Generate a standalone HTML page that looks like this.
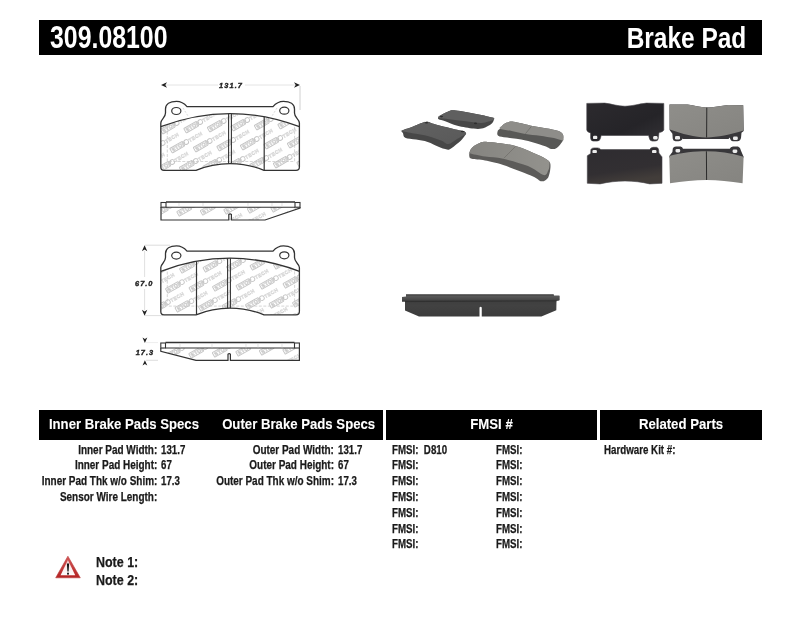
<!DOCTYPE html>
<html><head><meta charset="utf-8">
<style>
html,body{margin:0;padding:0;background:#fff;}
body{width:800px;height:619px;position:relative;overflow:hidden;font-family:"Liberation Sans",sans-serif;font-weight:bold;color:#1a1a1a;}
.t{position:absolute;white-space:nowrap;line-height:1;-webkit-text-stroke:0.25px currentColor;filter:grayscale(1);}
.l{transform-origin:left top;}
.r{transform-origin:right top;text-align:right;}
.m{transform-origin:center top;text-align:center;}
.bar{position:absolute;background:#000;}
.w{color:#fff;}
svg{position:absolute;left:0;top:0;filter:grayscale(0);}
</style></head><body>
<div class="bar" style="left:39px;top:20px;width:723px;height:35px;"></div>
<div class="t l w" id="pn" style="left:50px;top:21.6px;font-size:30.5px;transform:scaleX(.815);-webkit-text-stroke:0">309.08100</div>
<div class="t r w" id="bp" style="right:54px;top:23.3px;font-size:29.3px;transform:scaleX(.835);-webkit-text-stroke:0">Brake Pad</div>

<div class="bar" style="left:39px;top:410px;width:344px;height:30px;"></div>
<div class="bar" style="left:386px;top:410px;width:211px;height:30px;"></div>
<div class="bar" style="left:600px;top:410px;width:162px;height:30px;"></div>
<div class="t m w" style="left:36px;width:172px;top:416px;font-size:15.5px;transform:scaleX(.85);-webkit-text-stroke:0.1px #fff">Inner Brake Pads Specs</div>
<div class="t m w" style="left:209px;width:175px;top:416px;font-size:15.5px;transform:scaleX(.85);-webkit-text-stroke:0.1px #fff">Outer Brake Pads Specs</div>
<div class="t m w" style="left:386px;width:211px;top:416px;font-size:15.5px;transform:scaleX(.85);-webkit-text-stroke:0.1px #fff">FMSI #</div>
<div class="t m w" style="left:600px;width:162px;top:416px;font-size:15.5px;transform:scaleX(.85);-webkit-text-stroke:0.1px #fff">Related Parts</div>

<!-- inner specs -->
<div class="t r" style="right:643px;top:443.5px;font-size:12px;transform:scaleX(.83)">Inner Pad Width:</div>
<div class="t r" style="right:643px;top:459.3px;font-size:12px;transform:scaleX(.83)">Inner Pad Height:</div>
<div class="t r" style="right:643px;top:475.1px;font-size:12px;transform:scaleX(.83)">Inner Pad Thk w/o Shim:</div>
<div class="t r" style="right:643px;top:490.9px;font-size:12px;transform:scaleX(.83)">Sensor Wire Length:</div>
<div class="t l" style="left:161px;top:443.5px;font-size:12px;transform:scaleX(.81)">131.7</div>
<div class="t l" style="left:161px;top:459.3px;font-size:12px;transform:scaleX(.81)">67</div>
<div class="t l" style="left:161px;top:475.1px;font-size:12px;transform:scaleX(.81)">17.3</div>
<!-- outer specs -->
<div class="t r" style="right:466px;top:443.5px;font-size:12px;transform:scaleX(.83)">Outer Pad Width:</div>
<div class="t r" style="right:466px;top:459.3px;font-size:12px;transform:scaleX(.83)">Outer Pad Height:</div>
<div class="t r" style="right:466px;top:475.1px;font-size:12px;transform:scaleX(.83)">Outer Pad Thk w/o Shim:</div>
<div class="t l" style="left:338px;top:443.5px;font-size:12px;transform:scaleX(.81)">131.7</div>
<div class="t l" style="left:338px;top:459.3px;font-size:12px;transform:scaleX(.81)">67</div>
<div class="t l" style="left:338px;top:475.1px;font-size:12px;transform:scaleX(.81)">17.3</div>
<!-- FMSI -->
<div class="t l" style="left:392px;top:443.5px;font-size:12px;transform:scaleX(.81)">FMSI:&nbsp; D810</div>
<div class="t l" style="left:392px;top:459.3px;font-size:12px;transform:scaleX(.81)">FMSI:</div>
<div class="t l" style="left:392px;top:475.1px;font-size:12px;transform:scaleX(.81)">FMSI:</div>
<div class="t l" style="left:392px;top:490.9px;font-size:12px;transform:scaleX(.81)">FMSI:</div>
<div class="t l" style="left:392px;top:506.7px;font-size:12px;transform:scaleX(.81)">FMSI:</div>
<div class="t l" style="left:392px;top:522.5px;font-size:12px;transform:scaleX(.81)">FMSI:</div>
<div class="t l" style="left:392px;top:538.3px;font-size:12px;transform:scaleX(.81)">FMSI:</div>
<div class="t l" style="left:496px;top:443.5px;font-size:12px;transform:scaleX(.81)">FMSI:</div>
<div class="t l" style="left:496px;top:459.3px;font-size:12px;transform:scaleX(.81)">FMSI:</div>
<div class="t l" style="left:496px;top:475.1px;font-size:12px;transform:scaleX(.81)">FMSI:</div>
<div class="t l" style="left:496px;top:490.9px;font-size:12px;transform:scaleX(.81)">FMSI:</div>
<div class="t l" style="left:496px;top:506.7px;font-size:12px;transform:scaleX(.81)">FMSI:</div>
<div class="t l" style="left:496px;top:522.5px;font-size:12px;transform:scaleX(.81)">FMSI:</div>
<div class="t l" style="left:496px;top:538.3px;font-size:12px;transform:scaleX(.81)">FMSI:</div>
<!-- related -->
<div class="t l" style="left:604px;top:443.5px;font-size:12px;transform:scaleX(.812)">Hardware Kit #:</div>

<!-- notes -->
<div class="t l" style="left:96px;top:554.5px;font-size:14px;transform:scaleX(.89)">Note 1:</div>
<div class="t l" style="left:96px;top:573.3px;font-size:14px;transform:scaleX(.89)">Note 2:</div>


<svg width="800" height="619" viewBox="0 0 800 619">
  <defs>
    <g id="logo">
      <rect x="0" y="-2.6" width="14.5" height="5.2" rx="0.6" fill="none" stroke="#c4c4c4" stroke-width="0.9"/>
      <text x="1.3" y="1.9" font-family="Liberation Sans" font-weight="bold" font-size="5.2" letter-spacing="0.3" fill="#fff" stroke="#c9c9c9" stroke-width="0.55">STOP</text>
      <circle cx="17.6" cy="0" r="2.3" fill="none" stroke="#c6c6c6" stroke-width="0.9"/>
      <text x="20.6" y="1.9" font-family="Liberation Sans" font-size="5" letter-spacing="0.4" fill="#fff" stroke="#d4d4d4" stroke-width="0.5">TECH</text>
    </g>
    <clipPath id="cf1"><path d="M160.8,126.7 Q230,100.5 299.4,126.7 L299.4,167 Q299.4,170.3 296,170.3 L264,170.3 C250,164.5 240,163.6 230,163.6 C220,163.6 210,164.5 196,170.3 L164,170.3 Q160.8,170.3 160.8,167 Z"/></clipPath>
    <clipPath id="cf3"><path transform="translate(0,144.6)" d="M160.8,126.7 Q230,100.5 299.4,126.7 L299.4,167 Q299.4,170.3 296,170.3 L264,170.3 C250,164.5 240,163.6 230,163.6 C220,163.6 210,164.5 196,170.3 L164,170.3 Q160.8,170.3 160.8,167 Z"/></clipPath>
    <clipPath id="cs2"><path d="M161,207 L300,207 L300,208 L265,220 L161,220 Z"/></clipPath>
    <clipPath id="cs4"><path d="M161,348 L299.4,348 L299.4,360.3 L196,360.3 L161,351.3 Z"/></clipPath>

    <path id="outl" d="M160.8,123 C160.8,119 165.5,118 165.5,113 L165.5,109 C165.5,104 170,101.3 176.5,101.3 C181,101.3 184,103 187,106.6 L273,106.6 C276,103 279,101.3 283.5,101.3 C290,101.3 294.5,104 294.5,109 L294.5,113 C294.5,118 299.4,119 299.4,123 L299.4,167 Q299.4,170.3 296,170.3 L264,170.3 C250,164.5 240,163.6 230,163.6 C220,163.6 210,164.5 196,170.3 L164,170.3 Q160.8,170.3 160.8,167 Z"/>
    <path id="fric" d="M160.8,126.7 Q230,100.5 299.4,126.7 L299.4,167 Q299.4,170.3 296,170.3 L264,170.3 C250,164.5 240,163.6 230,163.6 C220,163.6 210,164.5 196,170.3 L164,170.3 Q160.8,170.3 160.8,167 Z"/>
    <path id="side" d="M161,202.5 L300,202.5 L300,208 L265,220 L161,220 Z"/>
  </defs>
  <!-- dimension 131.7 -->
  <line x1="166" y1="85" x2="218" y2="85" stroke="#e4e4e4" stroke-width="1"/>
  <line x1="245" y1="85" x2="295" y2="85" stroke="#e4e4e4" stroke-width="1"/>
  <path d="M161,85 L167,82.3 L165.3,85 L167,87.7 Z" fill="#222"/>
  <path d="M300,85 L294,82.3 L295.7,85 L294,87.7 Z" fill="#222"/>
  <line x1="300" y1="86" x2="300" y2="110" stroke="#d0d0d0" stroke-width="1"/>
  <text x="231" y="87.6" text-anchor="middle" font-family="Liberation Sans" font-weight="bold" font-style="italic" font-size="7.4" letter-spacing="1.1" fill="#222" stroke="#222" stroke-width="0.35">131.7</text>

  <!-- drawing 1 -->
  <g>
    <g clip-path="url(#cf1)"><use href="#logo" transform="translate(152.0,112.8) rotate(-30)"/><use href="#logo" transform="translate(175.5,111.8) rotate(-30)"/><use href="#logo" transform="translate(199.0,110.8) rotate(-30)"/><use href="#logo" transform="translate(222.5,109.8) rotate(-30)"/><use href="#logo" transform="translate(246.0,108.8) rotate(-30)"/><use href="#logo" transform="translate(269.5,107.8) rotate(-30)"/><use href="#logo" transform="translate(293.0,106.8) rotate(-30)"/><use href="#logo" transform="translate(138.0,132.8) rotate(-30)"/><use href="#logo" transform="translate(161.5,131.8) rotate(-30)"/><use href="#logo" transform="translate(185.0,130.8) rotate(-30)"/><use href="#logo" transform="translate(208.5,129.8) rotate(-30)"/><use href="#logo" transform="translate(232.0,128.8) rotate(-30)"/><use href="#logo" transform="translate(255.5,127.8) rotate(-30)"/><use href="#logo" transform="translate(279.0,126.8) rotate(-30)"/><use href="#logo" transform="translate(302.5,125.8) rotate(-30)"/><use href="#logo" transform="translate(147.5,151.8) rotate(-30)"/><use href="#logo" transform="translate(171.0,150.8) rotate(-30)"/><use href="#logo" transform="translate(194.5,149.8) rotate(-30)"/><use href="#logo" transform="translate(218.0,148.8) rotate(-30)"/><use href="#logo" transform="translate(241.5,147.8) rotate(-30)"/><use href="#logo" transform="translate(265.0,146.8) rotate(-30)"/><use href="#logo" transform="translate(288.5,145.8) rotate(-30)"/><use href="#logo" transform="translate(133.5,171.8) rotate(-30)"/><use href="#logo" transform="translate(157.0,170.8) rotate(-30)"/><use href="#logo" transform="translate(180.5,169.8) rotate(-30)"/><use href="#logo" transform="translate(204.0,168.8) rotate(-30)"/><use href="#logo" transform="translate(227.5,167.8) rotate(-30)"/><use href="#logo" transform="translate(251.0,166.8) rotate(-30)"/><use href="#logo" transform="translate(274.5,165.8) rotate(-30)"/><use href="#logo" transform="translate(298.0,164.8) rotate(-30)"/></g>
    <path d="M167.3,127 V161.5 H294.6 V125" fill="none" stroke="#c4c4c4" stroke-width="0.7" stroke-dasharray="3,1.5"/>
    <path d="M277,108 L272,116" fill="none" stroke="#c8c8c8" stroke-width="0.7" stroke-dasharray="2,1.5"/>
    <path d="M183,108 L188,116" fill="none" stroke="#c8c8c8" stroke-width="0.7" stroke-dasharray="2,1.5"/>
    <use href="#outl" fill="none" stroke="#333" stroke-width="1.3"/>
    <path d="M160.8,126.7 Q230,100.5 299.4,126.7" fill="none" stroke="#333" stroke-width="1.3"/>
    <ellipse cx="176.3" cy="111" rx="4.6" ry="3.5" fill="none" stroke="#333" stroke-width="1.2"/>
    <ellipse cx="284.3" cy="110.7" rx="4.6" ry="3.5" fill="none" stroke="#333" stroke-width="1.2"/>
    <line x1="228.6" y1="113.7" x2="228.6" y2="163.6" stroke="#333" stroke-width="1.1"/>
    <line x1="231.4" y1="113.7" x2="231.4" y2="163.6" stroke="#333" stroke-width="1.1"/>
    <line x1="264.2" y1="116.7" x2="264.2" y2="170.3" stroke="#333" stroke-width="1.2"/>
  </g>

  <!-- drawing 2 side -->
  <g>
    <g clip-path="url(#cs2)"><use href="#logo" transform="translate(145.0,196.0) rotate(-30)"/><use href="#logo" transform="translate(131.0,216.0) rotate(-30)"/><use href="#logo" transform="translate(154.5,215.0) rotate(-30)"/><use href="#logo" transform="translate(178.0,214.0) rotate(-30)"/><use href="#logo" transform="translate(201.5,213.0) rotate(-30)"/><use href="#logo" transform="translate(225.0,212.0) rotate(-30)"/><use href="#logo" transform="translate(248.5,211.0) rotate(-30)"/><use href="#logo" transform="translate(272.0,210.0) rotate(-30)"/><use href="#logo" transform="translate(295.5,209.0) rotate(-30)"/><use href="#logo" transform="translate(211.0,232.0) rotate(-30)"/><use href="#logo" transform="translate(234.5,231.0) rotate(-30)"/><use href="#logo" transform="translate(258.0,230.0) rotate(-30)"/><use href="#logo" transform="translate(281.5,229.0) rotate(-30)"/></g>
    <line x1="166" y1="202" x2="295" y2="202" stroke="#333" stroke-width="1.5"/>
    <rect x="161" y="202.5" width="5" height="4.7" fill="none" stroke="#333" stroke-width="1.1"/>
    <rect x="295" y="202.5" width="5" height="4.7" fill="none" stroke="#333" stroke-width="1.1"/>
    <line x1="166" y1="207.2" x2="295" y2="207.2" stroke="#333" stroke-width="1.1"/>
    <path d="M161,207 L161,220 L228.8,220 L228.8,214.5 Q230.1,213.2 231.4,214.5 L231.4,220 L265,220 L300,208 L300,207" fill="none" stroke="#333" stroke-width="1.2"/>
    <g stroke="#d8d8d8" stroke-width="0.7"><line x1="179" y1="203" x2="179" y2="207"/><line x1="203" y1="203" x2="203" y2="207"/><line x1="248" y1="203" x2="248" y2="207"/><line x1="272" y1="203" x2="272" y2="207"/><line x1="282" y1="203" x2="282" y2="207"/></g>
  </g>

  <!-- dimension 67.0 -->
  <line x1="144.6" y1="251" x2="144.6" y2="277" stroke="#e0e0e0" stroke-width="1"/>
  <line x1="144.6" y1="289" x2="144.6" y2="310" stroke="#e0e0e0" stroke-width="1"/>
  <line x1="145" y1="245.2" x2="170" y2="245.2" stroke="#d4d4d4" stroke-width="0.8"/>
  <line x1="145" y1="315.6" x2="163" y2="315.6" stroke="#d4d4d4" stroke-width="0.8"/>
  <path d="M144.6,245.3 L141.9,251.3 L144.6,249.6 L147.3,251.3 Z" fill="#222"/>
  <path d="M144.6,315.8 L141.9,309.8 L144.6,311.5 L147.3,309.8 Z" fill="#222"/>
  <text x="144.3" y="286" text-anchor="middle" font-family="Liberation Sans" font-weight="bold" font-style="italic" font-size="7.4" letter-spacing="1.0" fill="#222" stroke="#222" stroke-width="0.35">67.0</text>

  <!-- drawing 3 -->
  <g clip-path="url(#cf3)"><use href="#logo" transform="translate(147.7,253.0) rotate(-30)"/><use href="#logo" transform="translate(171.2,252.0) rotate(-30)"/><use href="#logo" transform="translate(194.7,251.0) rotate(-30)"/><use href="#logo" transform="translate(218.2,250.0) rotate(-30)"/><use href="#logo" transform="translate(241.7,249.0) rotate(-30)"/><use href="#logo" transform="translate(265.2,248.0) rotate(-30)"/><use href="#logo" transform="translate(288.7,247.0) rotate(-30)"/><use href="#logo" transform="translate(133.7,273.0) rotate(-30)"/><use href="#logo" transform="translate(157.2,272.0) rotate(-30)"/><use href="#logo" transform="translate(180.7,271.0) rotate(-30)"/><use href="#logo" transform="translate(204.2,270.0) rotate(-30)"/><use href="#logo" transform="translate(227.7,269.0) rotate(-30)"/><use href="#logo" transform="translate(251.2,268.0) rotate(-30)"/><use href="#logo" transform="translate(274.7,267.0) rotate(-30)"/><use href="#logo" transform="translate(298.2,266.0) rotate(-30)"/><use href="#logo" transform="translate(143.2,292.0) rotate(-30)"/><use href="#logo" transform="translate(166.7,291.0) rotate(-30)"/><use href="#logo" transform="translate(190.2,290.0) rotate(-30)"/><use href="#logo" transform="translate(213.7,289.0) rotate(-30)"/><use href="#logo" transform="translate(237.2,288.0) rotate(-30)"/><use href="#logo" transform="translate(260.7,287.0) rotate(-30)"/><use href="#logo" transform="translate(284.2,286.0) rotate(-30)"/><use href="#logo" transform="translate(152.7,311.0) rotate(-30)"/><use href="#logo" transform="translate(176.2,310.0) rotate(-30)"/><use href="#logo" transform="translate(199.7,309.0) rotate(-30)"/><use href="#logo" transform="translate(223.2,308.0) rotate(-30)"/><use href="#logo" transform="translate(246.7,307.0) rotate(-30)"/><use href="#logo" transform="translate(270.2,306.0) rotate(-30)"/><use href="#logo" transform="translate(293.7,305.0) rotate(-30)"/><use href="#logo" transform="translate(232.7,327.0) rotate(-30)"/><use href="#logo" transform="translate(256.2,326.0) rotate(-30)"/><use href="#logo" transform="translate(279.7,325.0) rotate(-30)"/><use href="#logo" transform="translate(303.2,324.0) rotate(-30)"/></g>
  <g transform="translate(0,144.6)">
    <path d="M167.3,127 V161.5 H294.6 V125" fill="none" stroke="#c4c4c4" stroke-width="0.7" stroke-dasharray="3,1.5"/>
    <use href="#outl" fill="none" stroke="#333" stroke-width="1.3"/>
    <path d="M160.8,126.7 Q230,100.5 299.4,126.7" fill="none" stroke="#333" stroke-width="1.3"/>
    <ellipse cx="176.3" cy="111" rx="4.6" ry="3.5" fill="none" stroke="#333" stroke-width="1.2"/>
    <ellipse cx="284.3" cy="110.7" rx="4.6" ry="3.5" fill="none" stroke="#333" stroke-width="1.2"/>
    <line x1="227.6" y1="113.7" x2="227.6" y2="163.6" stroke="#333" stroke-width="1.1"/>
    <line x1="230.4" y1="113.7" x2="230.4" y2="163.6" stroke="#333" stroke-width="1.1"/>
    <line x1="196.5" y1="116.7" x2="196.5" y2="170.3" stroke="#333" stroke-width="1.2"/>
  </g>

  <!-- dimension 17.3 -->
  <path d="M144.9,342.9 L142.5,337.5 L144.9,339 L147.3,337.5 Z" fill="#222"/>
  <path d="M144.9,360.2 L142.5,365.6 L144.9,364.1 L147.3,365.6 Z" fill="#222"/>
  <line x1="146" y1="360.3" x2="158" y2="360.3" stroke="#d4d4d4" stroke-width="0.8"/>
  <line x1="146" y1="342.6" x2="158" y2="342.6" stroke="#e8e8e8" stroke-width="0.8"/>
  <text x="144.9" y="354.5" text-anchor="middle" font-family="Liberation Sans" font-weight="bold" font-style="italic" font-size="7.4" letter-spacing="1.0" fill="#222" stroke="#222" stroke-width="0.35">17.3</text>

  <!-- drawing 4 side -->
  <g>
    <g clip-path="url(#cs4)"><use href="#logo" transform="translate(133.5,339.0) rotate(-30)"/><use href="#logo" transform="translate(157.0,338.0) rotate(-30)"/><use href="#logo" transform="translate(180.5,337.0) rotate(-30)"/><use href="#logo" transform="translate(143.0,358.0) rotate(-30)"/><use href="#logo" transform="translate(166.5,357.0) rotate(-30)"/><use href="#logo" transform="translate(190.0,356.0) rotate(-30)"/><use href="#logo" transform="translate(213.5,355.0) rotate(-30)"/><use href="#logo" transform="translate(237.0,354.0) rotate(-30)"/><use href="#logo" transform="translate(260.5,353.0) rotate(-30)"/><use href="#logo" transform="translate(284.0,352.0) rotate(-30)"/><use href="#logo" transform="translate(270.0,372.0) rotate(-30)"/><use href="#logo" transform="translate(293.5,371.0) rotate(-30)"/></g>
    <line x1="165.5" y1="342.6" x2="294.5" y2="342.6" stroke="#333" stroke-width="1.5"/>
    <rect x="160.8" y="343" width="4.7" height="5" fill="none" stroke="#333" stroke-width="1.1"/>
    <rect x="294.5" y="343" width="4.9" height="5" fill="none" stroke="#333" stroke-width="1.1"/>
    <line x1="165.5" y1="348" x2="294.5" y2="348" stroke="#333" stroke-width="1.1"/>
    <path d="M160.8,348 L160.8,351.3 L196,360.3 L228,360.3 L228,354.2 Q229.2,352.9 230.4,354.2 L230.4,360.3 L299.4,360.3 L299.4,348" fill="none" stroke="#333" stroke-width="1.2"/>
    <g stroke="#d8d8d8" stroke-width="0.7"><line x1="180" y1="343.5" x2="180" y2="347.5"/><line x1="212" y1="343.5" x2="212" y2="347.5"/><line x1="246" y1="343.5" x2="246" y2="347.5"/><line x1="258" y1="343.5" x2="258" y2="347.5"/><line x1="282" y1="343.5" x2="282" y2="347.5"/></g>
  </g>
</svg>

<svg width="800" height="619" viewBox="0 0 800 619">
  <defs>
    <linearGradient id="darkE" x1="0" y1="0" x2="1" y2="1">
      <stop offset="0" stop-color="#2c2a2e"/><stop offset="0.6" stop-color="#252428"/><stop offset="1" stop-color="#343236"/>
    </linearGradient>
    <linearGradient id="darkG" x1="0" y1="0" x2="0.3" y2="1">
      <stop offset="0" stop-color="#2e2c30"/><stop offset="0.7" stop-color="#322f32"/><stop offset="1" stop-color="#423d3a"/>
    </linearGradient>
    <linearGradient id="grayF" x1="0" y1="0" x2="1" y2="1">
      <stop offset="0" stop-color="#8f8e8a"/><stop offset="1" stop-color="#858480"/>
    </linearGradient>
    <linearGradient id="faceA" x1="0" y1="0" x2="1" y2="1">
      <stop offset="0" stop-color="#626262"/><stop offset="1" stop-color="#595959"/>
    </linearGradient>
    <linearGradient id="faceD" x1="0" y1="0" x2="1" y2="0">
      <stop offset="0" stop-color="#858480"/><stop offset="1" stop-color="#93928d"/>
    </linearGradient>
    <linearGradient id="sideP" x1="0" y1="0" x2="0" y2="1">
      <stop offset="0" stop-color="#3a3a3a"/><stop offset="0.5" stop-color="#424242"/><stop offset="1" stop-color="#3c3c3c"/>
    </linearGradient>
  </defs>

  <!-- Photo 1: perspective pads -->
  <!-- P1 START -->
  <path d="M438.3,117.2 C438.6,116.6 438.5,116.6 440.3,115.6 C442.1,114.6 446.9,112.0 449.2,111.1 C451.5,110.2 450.0,109.9 454.1,110.3 C458.2,110.7 467.2,112.3 473.6,113.5 C480.0,114.7 488.9,116.6 492.3,117.6 C495.7,118.5 493.9,118.3 493.9,119.2 C493.9,120.1 493.4,121.7 492.3,122.9 C491.2,124.1 488.8,125.5 487.0,126.5 C485.2,127.5 483.9,128.2 481.7,128.6 C479.5,128.9 477.7,129.1 473.6,128.6 C469.6,128.1 462.1,126.9 457.4,125.7 C452.7,124.5 448.3,122.3 445.2,121.2 C442.1,120.1 439.8,119.9 438.7,119.2 C437.6,118.5 438.0,117.8 438.3,117.2Z" fill="#474747"/>
  <path d="M438.3,117.2 C438.5,116.8 438.5,116.6 440.3,115.6 C442.1,114.6 446.9,112.0 449.2,111.1 C451.5,110.2 450.0,109.9 454.1,110.3 C458.2,110.7 467.2,112.3 473.6,113.5 C480.0,114.7 488.9,116.6 492.3,117.6 C495.7,118.5 493.8,118.8 493.9,119.2 C494.0,119.6 495.1,119.4 493.1,120.0 C491.1,120.6 486.3,122.7 481.7,122.9 C477.1,123.1 470.9,121.8 465.5,121.2 C460.1,120.6 453.6,119.7 449.2,119.2 C444.8,118.7 440.9,118.3 439.1,118.0 C437.3,117.7 438.1,117.6 438.3,117.2Z" fill="#5f5f5f"/>
  <path d="M402.0,130.6 C403.5,129.5 408.5,128.3 412.0,127.0 C415.5,125.7 420.4,123.3 423.2,122.5 C426.0,121.7 427.1,121.8 428.6,122.0 C430.1,122.2 429.3,122.6 432.2,123.4 C435.1,124.2 441.4,125.8 446.0,127.0 C450.6,128.2 457.0,129.8 460.1,130.6 C463.2,131.3 463.6,131.0 464.6,131.5 C465.6,132.0 466.0,133.0 466.0,133.8 C466.0,134.5 465.4,134.9 464.6,136.0 C463.8,137.1 462.6,138.9 461.0,140.5 C459.4,142.1 456.9,144.0 455.0,145.5 C453.1,147.0 451.1,148.9 449.3,149.5 C447.5,150.1 445.8,149.2 444.0,148.8 C442.2,148.4 441.2,148.0 438.5,146.8 C435.8,145.7 431.4,143.1 427.7,141.9 C423.9,140.7 419.8,140.3 416.0,139.6 C412.2,138.9 407.4,138.9 405.2,137.8 C403.0,136.8 403.5,134.5 403.0,133.3 C402.5,132.1 400.5,131.7 402.0,130.6Z" fill="#474747"/>
  <path d="M402.0,130.6 C403.6,129.9 408.5,128.3 412.0,127.0 C415.5,125.7 420.4,123.3 423.2,122.5 C426.0,121.7 427.1,121.8 428.6,122.0 C430.1,122.2 429.3,122.6 432.2,123.4 C435.1,124.2 441.4,125.8 446.0,127.0 C450.6,128.2 457.0,129.8 460.1,130.6 C463.2,131.3 463.6,131.0 464.6,131.5 C465.6,132.0 465.9,133.3 466.0,133.8 C466.1,134.2 467.0,133.3 465.5,134.2 C464.0,135.1 459.9,137.3 457.0,139.0 C454.1,140.7 451.0,143.8 448.4,144.1 C445.8,144.3 444.6,141.8 441.2,140.5 C437.8,139.2 431.9,137.1 427.7,136.0 C423.5,134.9 420.2,134.6 416.0,133.8 C411.8,132.9 404.8,131.7 402.5,131.2 C400.2,130.7 400.4,131.3 402.0,130.6Z" fill="url(#faceA)"/>
  <ellipse cx="426.5" cy="122.8" rx="1.8" ry="0.8" fill="#2e2e2e"/>
  <ellipse cx="462.5" cy="131.5" rx="1.8" ry="0.8" fill="#2e2e2e"/>
  <path d="M500.0,128.7 C500.8,127.8 501.2,126.4 502.4,125.4 C503.6,124.4 505.1,123.2 507.0,122.6 C508.9,122.0 509.4,121.2 513.6,121.7 C517.8,122.2 526.5,124.7 532.4,125.9 C538.3,127.1 544.8,127.8 549.2,128.7 C553.6,129.6 556.3,130.2 558.6,131.1 C560.9,132.0 562.0,133.1 562.8,134.3 C563.6,135.6 563.4,137.4 563.3,138.6 C563.2,139.8 563.5,139.8 562.4,141.4 C561.3,143.0 558.6,146.7 556.7,147.9 C554.8,149.2 553.0,149.2 551.0,148.9 C549.0,148.6 548.7,147.4 544.5,146.0 C540.3,144.6 532.0,141.8 525.8,140.4 C519.5,139.0 511.6,138.4 507.0,137.6 C502.4,136.8 499.8,136.8 498.2,135.7 C496.6,134.6 497.4,132.2 497.7,131.0 C498.0,129.8 499.2,129.6 500.0,128.7Z" fill="#585856"/>
  <path d="M500.0,128.7 C498.4,127.8 501.2,126.4 502.4,125.4 C503.6,124.4 505.1,123.2 507.0,122.6 C508.9,122.0 509.4,121.2 513.6,121.7 C517.8,122.2 526.5,124.7 532.4,125.9 C538.3,127.1 544.8,127.8 549.2,128.7 C553.6,129.6 556.3,130.2 558.6,131.1 C560.9,132.0 562.0,133.1 562.8,134.3 C563.6,135.6 563.4,137.6 563.3,138.6 C563.2,139.6 564.0,140.5 562.4,140.4 C560.8,140.3 557.6,138.9 553.9,138.1 C550.1,137.3 544.7,136.4 539.9,135.7 C535.1,135.0 530.0,134.7 525.3,133.9 C520.6,133.1 515.9,131.9 511.7,131.0 C507.5,130.1 501.6,129.6 500.0,128.7Z" fill="#8e8d89"/>
  <ellipse cx="441.5" cy="116.6" rx="1.6" ry="0.8" fill="#2e2e2e"/>
  <ellipse cx="475.5" cy="123.4" rx="1.6" ry="0.8" fill="#2e2e2e"/>
  <path d="M531.4,126.4 L525.3,133.9" stroke="#6a6a66" stroke-width="0.7"/>
  <path d="M469.5,152.6 C469.9,151.1 470.2,149.6 471.8,148.1 C473.2,146.6 475.9,144.6 478.5,143.6 C481.1,142.6 481.3,141.5 487.5,141.9 C493.7,142.3 507.2,143.7 515.6,145.9 C524.0,148.1 532.7,152.5 538.1,154.9 C543.5,157.3 546.1,158.6 548.2,160.5 C550.3,162.4 550.5,163.3 550.5,166.1 C550.5,168.9 549.7,174.9 548.2,177.4 C546.7,179.9 544.1,181.5 541.5,181.3 C538.9,181.1 538.9,179.0 532.5,176.2 C526.1,173.5 511.1,167.6 503.2,165.0 C495.3,162.4 490.2,161.5 485.0,160.5 C479.8,159.5 474.3,159.4 471.8,158.8 C469.2,158.2 469.9,158.1 469.5,157.1 C469.1,156.1 469.1,154.1 469.5,152.6Z" fill="#5c5b59"/>
  <path d="M469.5,152.6 C469.9,151.8 470.2,149.6 471.8,148.1 C473.2,146.6 475.9,144.6 478.5,143.6 C481.1,142.6 481.3,141.5 487.5,141.9 C493.7,142.3 507.2,143.7 515.6,145.9 C524.0,148.1 532.7,152.5 538.1,154.9 C543.5,157.3 546.3,158.8 548.2,160.5 C550.1,162.2 549.4,163.3 549.4,165.0 C549.4,166.7 549.2,168.9 548.2,170.6 C547.2,172.3 547.1,175.8 543.7,175.1 C540.3,174.3 534.8,168.8 528.0,166.1 C521.2,163.4 510.3,160.4 503.2,158.8 C496.1,157.2 490.8,157.5 485.2,156.6 C479.6,155.7 472.1,153.9 469.5,153.2 C466.9,152.5 469.1,153.4 469.5,152.6Z" fill="url(#faceD)"/>
  <path d="M515.6,146.4 L503.8,158.25" stroke="#6e6d69" stroke-width="0.7"/>
  <!-- P1 END -->

  <!-- Photo 2: flat pads -->
  <!-- Pad E (top-left backing plate) -->
  <path d="M586.75,103.4 L604.75,103.1 C612,104 618,106.25 625,106.25 C632,106.25 638,104 646.4,103.1 L663.8,103.4 L663.8,129.9 Q663.5,131.8 659,132.5 L658.3,138.5 Q658,141.1 655,141.1 L652.3,141.1 Q649.8,141 649.3,138 L648.6,135.5 L601.2,135.5 L600.5,138 Q600,141.1 597,141.1 L593.3,141.1 Q590.8,141.1 590.6,138 L590.6,133 Q586.75,131.6 586.75,129.9 Z" fill="url(#darkE)" stroke="#47444a" stroke-width="0.6"/>
  <rect x="593" y="135.8" width="4.3" height="3.3" rx="1.2" fill="#ececec"/>
  <rect x="653.2" y="136.1" width="4.3" height="3.3" rx="1.2" fill="#ececec"/>
  <!-- Pad F (top-right friction) -->
  <path d="M669.5,104.6 L687.5,104.6 C694,105.5 700,107.4 706.6,107.4 C714,107.4 721,105.5 728,104.9 L743.2,105.3 L743.7,131 L741.5,132.8 L741,138 Q740,141.25 737.5,141.25 L733,141.25 Q730.5,141 729.8,137.5 L728.5,139.1 L683,139.1 L682.5,138.5 Q681.5,141.25 678.5,141.25 L675.5,141.25 Q673,141 672.7,138.5 L672.4,133.8 L669.6,130 Z" fill="#38373a"/>
  <path d="M669.5,104.6 L687.5,104.6 C694,105.5 700,107.4 706.6,107.4 C714,107.4 721,105.5 728,104.9 L743.2,105.3 L743.6,130.6 C730,134.5 718,137.5 706.4,137.5 C695,137.5 682,134 669.8,129.6 Z" fill="url(#grayF)"/>
  <line x1="706.8" y1="107.6" x2="706.6" y2="137.5" stroke="#2a2a2a" stroke-width="1"/>
  <rect x="675" y="136.1" width="5" height="3.5" rx="1.3" fill="#ececec"/>
  <rect x="733" y="136.6" width="4.8" height="3.5" rx="1.3" fill="#ececec"/>
  <!-- Pad G (bottom-left backing plate) -->
  <path d="M587.3,155.75 L590.7,153.5 L590.9,149.5 Q591.5,147.9 594,147.9 L597.5,147.9 Q600,148 600.8,149.6 L649.7,149.6 Q650.5,147.5 653,147.3 L656.5,147.3 Q658.5,147.8 658.7,150 L658.9,153 L662,156.9 L662,183.3 L649.7,183.9 C642,182 633,181 625,181 C617,181 608,182 600,183.9 L587.3,183.3 Z" fill="url(#darkG)" stroke="#47444a" stroke-width="0.6"/>
  <rect x="592.4" y="150.1" width="4.5" height="3" rx="1.2" fill="#ececec"/>
  <rect x="652" y="150.1" width="4.5" height="3" rx="1.2" fill="#ececec"/>
  <!-- Pad H (bottom-right friction) -->
  <path d="M669.3,156.1 L672.4,151.9 L672.8,148.5 Q673.5,146.6 676,146.6 L680.5,146.6 Q682.5,147 683,148.7 L729.8,148.7 Q730.5,146.8 733,146.6 L738,146.6 Q740.5,147.5 741,150.8 L743.6,156.7 L743.6,157.5 L669.3,157.5 Z" fill="#38373a"/>
  <path d="M669.3,156.1 C682,152.5 695,151.3 706.4,151.3 C718,151.3 731,153 743.6,156.7 L742.6,182.75 L742.6,183.3 C730,181.5 718,180 706.6,180 C695,180 682,181.5 670,183.3 Z" fill="url(#grayF)"/>
  <line x1="706.4" y1="151.3" x2="706.6" y2="180" stroke="#2a2a2a" stroke-width="1"/>
  <rect x="675.5" y="148.9" width="4.7" height="3.5" rx="1.3" fill="#ececec"/>
  <rect x="732.6" y="149.4" width="4.7" height="3.5" rx="1.3" fill="#ececec"/>

  <!-- Photo 3: side view -->
  <linearGradient id="band3" x1="0" y1="0" x2="0" y2="1"><stop offset="0" stop-color="#3c3c3c"/><stop offset="0.25" stop-color="#585858"/><stop offset="0.7" stop-color="#4a4a4a"/><stop offset="1" stop-color="#333"/></linearGradient>
  <path d="M402,297 L406,296.8 L406,294.5 L553.7,294.6 L553.7,295.7 L559.4,295.8 L559.4,300.2 L556.5,300.75 L556.3,310.3 L541.4,316.5 L481.75,316.5 L481.75,307.5 Q480.6,305.8 479.5,307.5 L479.5,316.5 L419,316.5 L405,310.5 L405,301.5 L402,301.5 Z" fill="url(#sideP)"/>
  <path d="M406,294.5 L553.7,294.6 L553.7,295.7 L559.4,295.8 L559.4,300.2 L556.5,300.75 L405,301.5 L402,301.5 L402,297 L406,296.8 Z" fill="url(#band3)"/>
  <path d="M405,301.6 L556.5,300.9" stroke="#2e2e2e" stroke-width="0.8"/>
</svg>

<svg width="800" height="619" viewBox="0 0 800 619">
  <defs>
    <linearGradient id="tri" x1="0" y1="0" x2="0" y2="1">
      <stop offset="0" stop-color="#d65a5a"/><stop offset="1" stop-color="#b42222"/>
    </linearGradient>
  </defs>
  <linearGradient id="tri2" x1="0" y1="0" x2="0" y2="1"><stop offset="0" stop-color="#f3c4c4"/><stop offset="0.5" stop-color="#fbeeee"/><stop offset="1" stop-color="#fdfafa"/></linearGradient>
  <path d="M67.9,556.2 L80.3,577.8 L55.7,577.8 Z" fill="url(#tri)" stroke="#b83a3a" stroke-width="0.6" stroke-linejoin="round"/>
  <path d="M67.9,559.9 L75.2,575.2 L60.6,575.2 Z" fill="url(#tri2)"/>
  <path d="M66.9,563.6 L69.1,563.6 L68.6,571.6 L67.4,571.6 Z" fill="#111"/>
  <rect x="67.1" y="572.7" width="1.8" height="1.9" fill="#111"/>
</svg>
</body></html>
